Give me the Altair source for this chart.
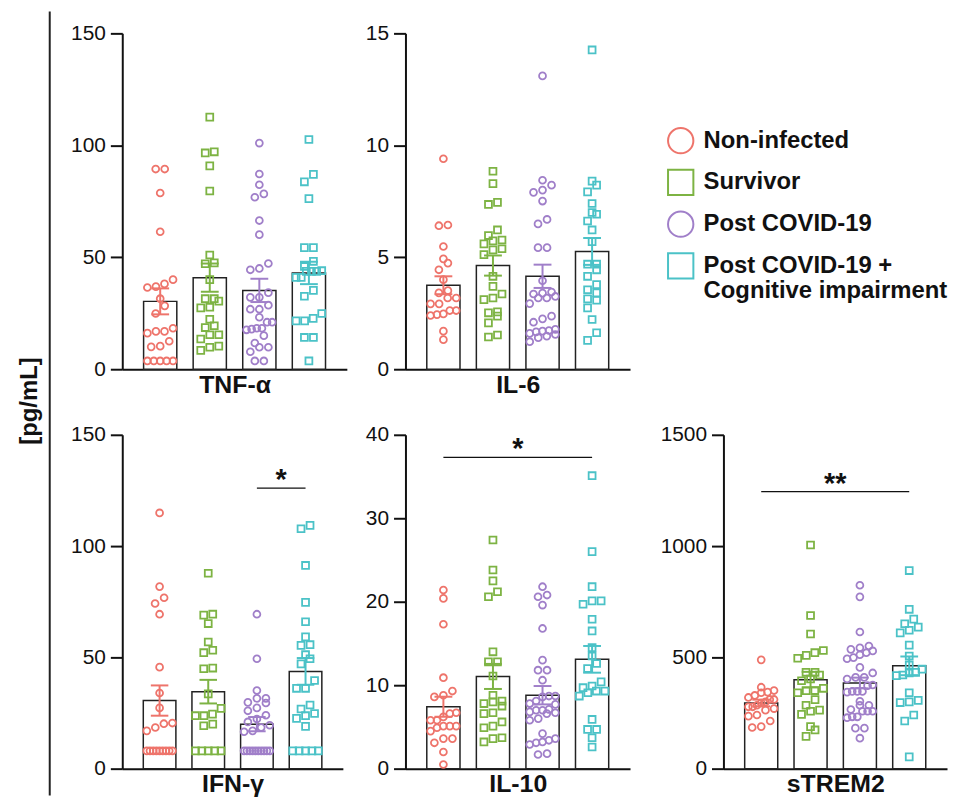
import altair as alt
import pandas as pd

# ---------------- data ----------------
groups = ["Non-infected", "Survivor", "Post COVID-19", "Post COVID-19 + Cognitive impairment"]
group_colors = ["#EE746B", "#7DB343", "#A07FC9", "#4BC2C7"]
group_shapes = ["circle", "square", "circle", "square"]
legend_lines = ["Non-infected", "Survivor", "Post COVID-19", "Post COVID-19 +", "Cognitive impairment"]
legend_line_rows = [0, 1, 2, 3, 3.6]
y_title = "[pg/mL]"

# TNF-alpha
tnf_noninfected = [89.4, 89.4, 78.7, 61.4, 40.0, 38.1, 36.9, 36.5, 31.5, 28.3, 24.9, 18.3, 16.9, 16.9, 16.1,
                   12.5, 10.3, 10.0, 3.7, 3.7, 3.7, 3.7, 3.7]
tnf_survivor = [112.6, 97.1, 96.6, 90.8, 79.6, 51.0, 47.5, 47.1, 40.0, 31.5, 31.5, 30.4, 27.7, 27.4, 22.3,
                19.4, 18.6, 15.4, 15.4, 13.5, 10.3, 9.8, 8.4]
tnf_post = [101.0, 87.2, 82.4, 78.3, 76.8, 66.4, 60.1, 47.2, 45.0, 44.4, 34.2, 32.1, 32.1, 28.6, 26.8, 26.8,
            23.2, 21.0, 21.0, 18.3, 18.3, 17.9, 17.6, 15.0, 11.7, 9.8, 9.8, 7.8, 3.7, 3.7]
tnf_ci = [102.6, 87.0, 83.7, 76.2, 54.3, 54.3, 48.2, 45.9, 44.0, 43.7, 43.7, 43.7, 41.0, 41.0, 35.2, 32.6,
          24.9, 22.7, 21.6, 21.6, 14.2, 14.2, 3.7]
tnf_mean = [30.3, 40.9, 35.2, 43.0]
tnf_sem = [5.8, 6.3, 5.2, 5.0]
tnf_ticks = [0, 50, 100, 150]

# IL-6
il6_noninfected = [9.40, 6.44, 6.41, 5.48, 4.93, 4.74, 4.44, 4.00, 3.51, 3.41, 3.18, 3.18, 2.92, 2.92, 2.62,
                   2.62, 2.47, 2.44, 2.40, 1.70, 1.32]
il6_survivor = [8.84, 8.29, 7.45, 7.36, 6.22, 5.97, 5.77, 5.73, 5.60, 5.38, 5.33, 5.12, 4.15, 3.70, 3.36,
                3.18, 3.11, 2.56, 2.52, 2.37, 2.07, 1.53, 1.44]
il6_post = [13.1, 8.44, 8.22, 8.00, 7.90, 7.51, 6.69, 6.49, 5.43, 5.43, 3.95, 3.45, 3.40, 3.36, 3.25, 3.18,
            3.18, 2.93, 2.37, 2.25, 2.10, 1.78, 1.73, 1.70, 1.67, 1.60, 1.55, 1.48, 1.41, 1.23]
il6_ci = [14.26, 8.40, 8.22, 7.92, 7.40, 7.00, 6.92, 6.62, 6.22, 5.70, 4.69, 4.69, 4.44, 4.15, 3.78, 3.55,
          3.41, 3.14, 3.08, 2.74, 2.22, 1.63, 1.29]
il6_mean = [3.75, 4.63, 4.15, 5.26]
il6_sem = [0.40, 0.45, 0.52, 0.60]
il6_ticks = [0, 5, 10, 15]

# IFN-gamma
ifn_noninfected = [114.9, 81.8, 76.8, 74.2, 69.4, 45.6, 34.0, 27.3, 20.5, 20.2, 18.5, 17.0,
                   8.0, 8.0, 8.0, 8.0, 8.0, 8.0, 8.0, 8.0, 8.0]
ifn_survivor = [87.8, 69.4, 69.0, 65.2, 56.9, 53.2, 52.1, 45.2, 44.9, 33.6, 27.1, 24.5, 23.8, 23.8, 20.0,
                19.3, 8.0, 8.0, 8.0, 8.0, 8.0]
ifn_post = [69.4, 49.4, 35.1, 31.6, 31.6, 29.8, 29.5, 27.3, 26.0, 24.0, 22.3, 21.0, 19.5, 18.5, 17.0, 16.6,
            8.0, 8.0, 8.0, 8.0, 8.0, 8.0, 8.0, 8.0, 8.0, 8.0]
ifn_ci = [109.3, 107.8, 91.3, 74.7, 66.0, 59.2, 55.7, 55.4, 51.2, 49.4, 47.1, 39.6, 36.1, 36.1, 28.6, 26.8,
          24.8, 23.8, 22.6, 19.0, 8.0, 8.0, 8.0, 8.0, 8.0]
ifn_mean = [30.6, 34.6, 20.0, 43.7]
ifn_sem = [6.8, 5.3, 3.2, 6.0]
ifn_ticks = [0, 50, 100, 150]
ifn_sig = [2, 3, 126.0, "*"]

# IL-10
il10_noninfected = [21.4, 20.4, 17.3, 10.9, 9.3, 8.8, 8.6, 6.7, 6.6, 6.2, 5.8, 5.8, 5.1, 5.1, 5.1, 4.9, 4.5,
                    3.6, 3.6, 3.1, 2.0, 0.5]
il10_survivor = [27.4, 23.8, 22.5, 21.2, 20.6, 14.0, 12.8, 12.8, 11.1, 8.8, 8.1, 8.0, 7.8, 7.5, 6.7, 6.6,
                 5.6, 5.1, 4.9, 3.7, 3.6, 3.2]
il10_post = [21.8, 20.8, 20.6, 19.6, 16.8, 13.0, 11.8, 11.8, 10.6, 8.7, 8.7, 8.6, 8.1, 7.8, 7.7, 7.1, 7.0,
             7.0, 6.8, 6.7, 6.6, 6.0, 5.8, 4.2, 3.6, 3.4, 3.2, 3.1, 2.9, 1.8, 1.7]
il10_ci = [35.1, 26.0, 21.8, 20.1, 20.1, 19.7, 17.9, 16.5, 14.5, 13.5, 12.6, 12.0, 10.4, 9.9, 9.7, 9.3, 9.3,
           9.1, 8.7, 5.9, 4.7, 4.7, 3.7, 2.6]
il10_mean = [7.42, 11.05, 8.8, 13.1]
il10_sem = [1.2, 1.5, 1.1, 1.6]
il10_ticks = [0, 10, 20, 30, 40]
il10_sig = [0, 3, 37.3, "*"]

# sTREM2
strem2_noninfected = [489, 366, 351, 344, 341, 329, 320, 311, 311, 300, 295, 285, 278, 278, 270, 263, 241,
                      236, 214, 189, 185]
strem2_survivor = [1005, 688, 605, 531, 521, 509, 496, 433, 433, 421, 403, 395, 361, 351, 350, 341, 310,
                   285, 263, 258, 244, 189, 174, 145]
strem2_post = [824, 772, 614, 551, 543, 536, 529, 521, 512, 499, 494, 455, 430, 410, 410, 403, 376, 373,
               347, 347, 347, 344, 303, 285, 285, 266, 258, 258, 258, 233, 233, 229, 182, 182, 137]
strem2_ci = [890, 716, 672, 651, 636, 622, 610, 555, 506, 465, 447, 433, 430, 421, 418, 341, 307, 300, 297,
             241, 214, 53]
strem2_mean = [295, 400, 385, 462]
strem2_sem = [15, 35, 24, 42]
strem2_ticks = [0, 500, 1000, 1500]
strem2_sig = [0, 3, 1245, "**"]

# ---------------- style ----------------
FONT = "Liberation Sans, Arial, sans-serif"
INK = "#111111"
PAD_IN = 0.33
PAD_OUT = 0.33
BAR_HALF = (1 - PAD_IN) / 2
CAP_HALF = 0.18
X_DOMAIN = [-BAR_HALF - PAD_OUT, 3 + BAR_HALF + PAD_OUT]
TOP_H = 338
BOT_H = 336


def swarm_offsets(vals, ppu, spacing=9.5, row_h=8.0, max_half=13.5):
    """Prism-like column scatter: points close in y share a row, centred."""
    order = sorted(range(len(vals)), key=lambda i: vals[i])
    rows, cur = [], [order[0]]
    for i in order[1:]:
        if (vals[i] - vals[cur[0]]) * ppu < row_h:
            cur.append(i)
        else:
            rows.append(cur)
            cur = [i]
    rows.append(cur)
    offs = [0.0] * len(vals)
    for r in rows:
        k = len(r)
        s = spacing if k < 2 else min(spacing, 2 * max_half / (k - 1))
        for j, i in enumerate(r):
            offs[i] = (j - (k - 1) / 2) * s
    return offs


color_enc = alt.Color("group:N", scale=alt.Scale(domain=groups, range=group_colors), legend=None)
shape_enc = alt.Shape("group:N", scale=alt.Scale(domain=groups, range=group_shapes), legend=None)


def panel(name, series, means, sems, ticks, width, height, sig=None):
    ymax = ticks[-1]
    step = width / (4 - PAD_IN + 2 * PAD_OUT)
    ppu = height / ymax
    recs = []
    for gi, (g, vals) in enumerate(zip(groups, series)):
        for v, o in zip(vals, swarm_offsets(vals, ppu)):
            recs.append({"group": g, "pos": gi + o / step, "value": v})
    pts = pd.DataFrame(recs)
    summ = pd.DataFrame({"group": groups, "idx": list(range(4)), "mean": means, "sem": sems})

    xsc = alt.Scale(domain=X_DOMAIN, nice=False, zero=False)
    ysc = alt.Scale(domain=[0, ymax], nice=False, zero=True)
    xax = alt.Axis(title=name, labels=False, ticks=False, grid=False, domainColor=INK, domainWidth=2,
                   titleFont=FONT, titleFontSize=25, titleFontWeight="bold", titleColor=INK,
                   titlePadding=3)
    yax = alt.Axis(title=None, values=ticks, format="d", grid=False, domainColor=INK, domainWidth=2,
                   tickColor=INK, tickWidth=2, tickSize=12, labelFont=FONT, labelFontSize=21,
                   labelColor=INK, labelPadding=5)

    bars = alt.Chart(summ).transform_calculate(
        bx1=f"datum.idx - {BAR_HALF}", bx2=f"datum.idx + {BAR_HALF}", base="0"
    ).mark_bar(fill="white", stroke="#222222", strokeWidth=1.5, orient="vertical").encode(
        x=alt.X("bx1:Q", scale=xsc, axis=xax), x2="bx2:Q",
        y=alt.Y("mean:Q", scale=ysc, axis=yax), y2="base:Q")

    points = alt.Chart(pts).mark_point(filled=False, size=48, strokeWidth=1.8, opacity=1).encode(
        x=alt.X("pos:Q", scale=xsc, axis=xax), y=alt.Y("value:Q", scale=ysc, axis=yax),
        color=color_enc, shape=shape_enc)

    err_base = alt.Chart(summ).transform_calculate(
        lo="datum.mean - datum.sem", hi="datum.mean + datum.sem",
        c1=f"datum.idx - {CAP_HALF}", c2=f"datum.idx + {CAP_HALF}")
    err_v = err_base.mark_rule(strokeWidth=2).encode(
        x=alt.X("idx:Q", scale=xsc, axis=xax), y=alt.Y("lo:Q", scale=ysc, axis=yax), y2="hi:Q",
        color=color_enc)
    err_t = err_base.mark_rule(strokeWidth=2).encode(
        x=alt.X("c1:Q", scale=xsc, axis=xax), x2="c2:Q", y=alt.Y("hi:Q", scale=ysc, axis=yax),
        color=color_enc)
    err_b = err_base.mark_rule(strokeWidth=2).encode(
        x=alt.X("c1:Q", scale=xsc, axis=xax), x2="c2:Q", y=alt.Y("lo:Q", scale=ysc, axis=yax),
        color=color_enc)

    layers = [bars, points, err_v, err_t, err_b]
    if sig is not None:
        sdf = pd.DataFrame({"x1": [sig[0]], "x2": [sig[1]], "y": [sig[2]], "label": [sig[3]]})
        line = alt.Chart(sdf).mark_rule(color=INK, strokeWidth=1.3).encode(
            x=alt.X("x1:Q", scale=xsc, axis=xax), x2="x2:Q", y=alt.Y("y:Q", scale=ysc, axis=yax))
        star = alt.Chart(sdf).transform_calculate(xm="(datum.x1 + datum.x2) / 2").mark_text(
            font=FONT, fontSize=29, fontWeight="bold", baseline="alphabetic", dy=1, color=INK
        ).encode(x=alt.X("xm:Q", scale=xsc, axis=xax), y=alt.Y("y:Q", scale=ysc, axis=yax),
                 text="label:N")
        layers += [line, star]
    return alt.layer(*layers).properties(width=width, height=height)


def legend_chart(width, height, sym_x=-43, text_x=-20, first_row_px=108, row_px=42):
    sym = pd.DataFrame({"group": groups, "row": list(range(4))})
    txt = pd.DataFrame({"text": legend_lines, "row": legend_line_rows})
    start = -first_row_px / row_px
    ysc = alt.Scale(domain=[start, start + height / row_px], reverse=True, nice=False, zero=False)
    symbols = alt.Chart(sym).mark_point(filled=False, size=650, strokeWidth=2, opacity=1).encode(
        x=alt.value(sym_x), y=alt.Y("row:Q", scale=ysc, axis=None), color=color_enc, shape=shape_enc)
    labels = alt.Chart(txt).mark_text(align="left", baseline="middle", font=FONT, fontSize=24,
                                      fontWeight="bold", color=INK).encode(
        x=alt.value(text_x), y=alt.Y("row:Q", scale=ysc, axis=None), text="text:N")
    return alt.layer(symbols, labels).properties(width=width, height=height)


def strip_chart(width, height, rule_top=-22, rule_bottom=767):
    df = pd.DataFrame({"label": [y_title]})
    rule = alt.Chart(df).mark_rule(color="#222222", strokeWidth=2).encode(
        x=alt.value(39), y=alt.value(rule_top), y2=alt.value(rule_bottom))
    text = alt.Chart(df).mark_text(angle=270, font=FONT, fontSize=24, fontWeight="bold",
                                   color=INK).encode(x=alt.value(19), y=alt.value(370), text="label:N")
    return alt.layer(rule, text).properties(width=width, height=height)


def blank(width, height):
    df = pd.DataFrame({"v": [0]})
    return alt.Chart(df).mark_point(opacity=0).encode(
        x=alt.value(0), y=alt.value(0)).properties(width=width, height=height)


tnf = panel("TNF-α", [tnf_noninfected, tnf_survivor, tnf_post, tnf_ci], tnf_mean, tnf_sem, tnf_ticks,
            226, TOP_H)
il6 = panel("IL-6", [il6_noninfected, il6_survivor, il6_post, il6_ci], il6_mean, il6_sem, il6_ticks,
            226, TOP_H)
ifn = panel("IFN-γ", [ifn_noninfected, ifn_survivor, ifn_post, ifn_ci], ifn_mean, ifn_sem, ifn_ticks,
            222, BOT_H, sig=ifn_sig)
il10 = panel("IL-10", [il10_noninfected, il10_survivor, il10_post, il10_ci], il10_mean, il10_sem,
             il10_ticks, 226, BOT_H, sig=il10_sig)
strem2 = panel("sTREM2", [strem2_noninfected, strem2_survivor, strem2_post, strem2_ci], strem2_mean,
               strem2_sem, strem2_ticks, 225, BOT_H, sig=strem2_sig)
legend = legend_chart(225, TOP_H)
strip = strip_chart(112, TOP_H)

cells = [
    strip, tnf, blank(59, 10), il6, blank(94, 10), legend,
    blank(112, 10), ifn, blank(59, 10), il10, blank(94, 10), strem2,
]
chart = alt.concat(
    *cells, columns=6, spacing=alt.RowColnumber(row=66, column=0), bounds="flush", align="each"
).properties(padding=0, background="white").configure_view(stroke=None)

chart.save("out.html", embed_options={"renderer": "svg", "actions": False})
